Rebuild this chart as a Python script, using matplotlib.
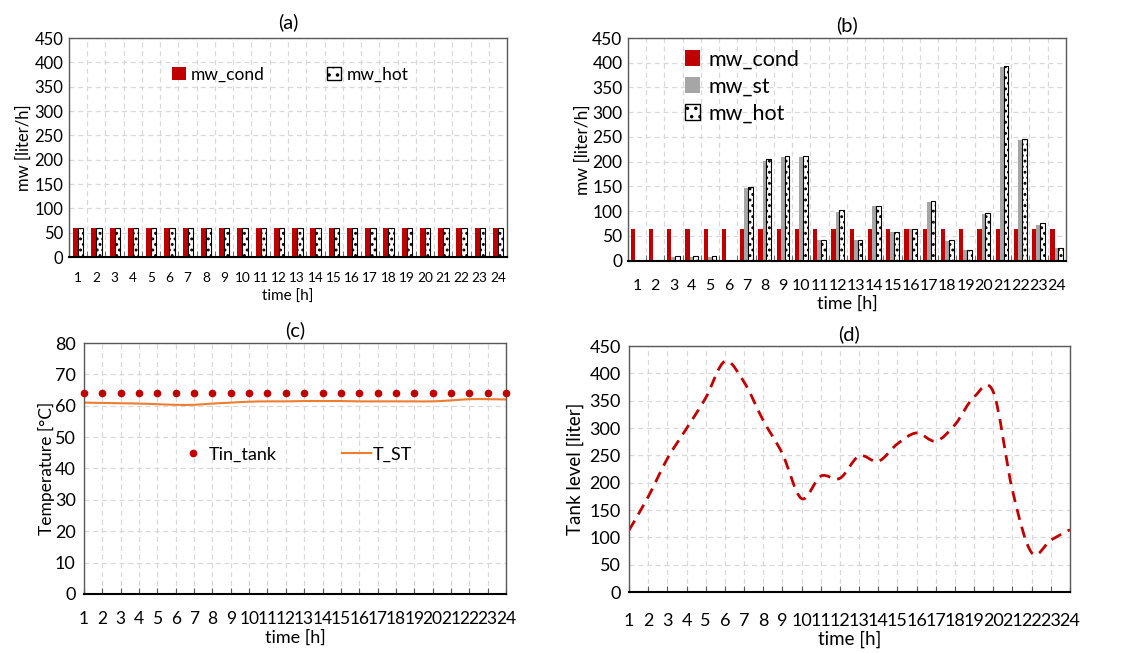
import numpy as np
import matplotlib
matplotlib.use('Agg')
import matplotlib.pyplot as plt
from matplotlib.path import Path
from matplotlib.patches import PathPatch, Patch
from matplotlib.lines import Line2D

plt.rcParams['font.family'] = ['Lato', 'DejaVu Sans']
plt.rcParams['hatch.linewidth'] = 1.3

# data
hours = list(range(1, 25))
hour_labels = [str(h) for h in hours]

# (a)
mw_cond_a = [60] * 24
mw_hot_a = [60] * 24

# (b)
mw_cond_b = [65] * 24
mw_st_b = [0, 0, 8, 8, 8, 0, 147, 202, 210, 210, 41, 99, 41, 110, 57, 65,
           118, 39, 22, 95, 391, 244, 72, 25]
mw_hot_b = [0, 0, 10, 10, 10, 0, 148, 205, 211, 212, 42, 102, 42, 111, 58, 65,
            120, 42, 22, 96, 394, 246, 76, 25]

# (c)
tin_tank = [64] * 24
t_st = [61.0, 60.9, 60.8, 60.7, 60.5, 60.3, 60.3, 60.7, 61.0, 61.3, 61.4, 61.4,
        61.5, 61.5, 61.5, 61.4, 61.4, 61.4, 61.4, 61.4, 61.7, 62.1, 62.1, 62.0]

# (d)
tank_level = [113, 174, 244, 299, 355, 422, 384, 314, 253, 171, 212, 208,
              249, 239, 271, 291, 276, 306, 357, 366, 186, 72, 95, 114]

RED = '#C00000'
GRAY = '#A6A6A6'
ORANGE = '#ED7D31'
GRID = '#D9D9D9'
HATCH = '...'


def smooth_path(x, y):
    # Excel-like smoothed line: Catmull-Rom converted to cubic Bezier segments
    n = len(x)
    verts = [(x[0], y[0])]
    codes = [Path.MOVETO]
    for i in range(n - 1):
        a = max(i - 1, 0)
        d = min(i + 2, n - 1)
        c1 = (x[i] + (x[i + 1] - x[a]) / 6, y[i] + (y[i + 1] - y[a]) / 6)
        c2 = (x[i + 1] - (x[d] - x[i]) / 6, y[i + 1] - (y[d] - y[i]) / 6)
        verts += [c1, c2, (x[i + 1], y[i + 1])]
        codes += [Path.CURVE4] * 3
    return Path(verts, codes)


def style_frame(ax):
    for s in ['top', 'right', 'left']:
        ax.spines[s].set_color('#595959')
        ax.spines[s].set_linewidth(1.0)
    ax.spines['bottom'].set_color('black')
    ax.spines['bottom'].set_linewidth(1.5)
    ax.set_axisbelow(True)


def category_axis(ax, fs, yfs, pad):
    x = np.array(hours)
    ax.set_xlim(0.5, 24.5)
    ax.set_xticks(x)
    ax.set_xticklabels(hour_labels, fontsize=fs)
    ax.tick_params(axis='x', which='major', length=0, pad=pad)
    ax.set_xticks(np.arange(0.5, 25, 1), minor=True)
    ax.tick_params(axis='x', which='minor', direction='in', length=4, color='#595959')
    ax.grid(axis='x', which='minor', color=GRID, ls=(0, (4, 3)), lw=0.9)
    ax.grid(axis='y', which='major', color=GRID, ls=(0, (4, 3)), lw=0.9)
    ax.tick_params(axis='y', length=0, labelsize=yfs, pad=4)


fig = plt.figure(figsize=(11.23, 6.53), dpi=100)

# ---- (a)
ax1 = fig.add_axes([0.0614, 0.6064, 0.3901, 0.3354])
x = np.array(hours)
ax1.bar(x - 0.135, mw_cond_a, width=0.27, color=RED)
ax1.bar(x + 0.15, mw_hot_a, width=0.29, facecolor='white', edgecolor='black',
        lw=0.8, hatch=HATCH)
ax1.set_ylim(0, 450)
ax1.set_yticks(range(0, 451, 50))
category_axis(ax1, 9.8, 12, 11)
style_frame(ax1)
ax1.set_title('(a)', fontsize=14.5, pad=7)
ax1.set_xlabel('time [h]', fontsize=11, labelpad=4)
ax1.set_ylabel('mw [liter/h]', fontsize=12, labelpad=2)
h1 = [Patch(facecolor=RED), Patch(facecolor='white', edgecolor='black', hatch='..')]
ax1.legend(h1, ['mw_cond', 'mw_hot'], ncol=2, frameon=False, fontsize=12.5,
           loc='upper center', bbox_to_anchor=(0.505, 0.94), handlelength=0.8,
           handleheight=0.8, handletextpad=0.3, columnspacing=3.6)

# ---- (b)
ax2 = fig.add_axes([0.5592, 0.6008, 0.39, 0.341])
ax2.bar(x - 0.235, mw_cond_b, width=0.23, color=RED)
ax2.bar(x - 0.01, mw_st_b, width=0.23, color=GRAY)
ax2.bar(x + 0.215, mw_hot_b, width=0.25, facecolor='white', edgecolor='black',
        lw=0.8, hatch=HATCH)
ax2.set_ylim(0, 450)
ax2.set_yticks(range(0, 451, 50))
category_axis(ax2, 11.5, 12.5, 13)
style_frame(ax2)
ax2.set_title('(b)', fontsize=14.5, pad=5)
ax2.set_xlabel('time [h]', fontsize=13, labelpad=2)
ax2.set_ylabel('mw [liter/h]', fontsize=12.5, labelpad=1)
h2 = [Patch(facecolor=RED), Patch(facecolor=GRAY),
      Patch(facecolor='white', edgecolor='black', hatch='..')]
ax2.legend(h2, ['mw_cond', 'mw_st', 'mw_hot'], frameon=False, fontsize=15.5,
           loc='upper left', bbox_to_anchor=(0.085, 1.035), handlelength=0.7,
           handleheight=0.8, handletextpad=0.4, labelspacing=0.32)

# ---- (c)
ax3 = fig.add_axes([0.0748, 0.0904, 0.3758, 0.3843])
ax3.plot(hours, tin_tank, 'o', color=RED, ms=4.5, clip_on=False, zorder=4)
ax3.add_patch(PathPatch(smooth_path(hours, t_st), fill=False, edgecolor=ORANGE, lw=1.5))
ax3.set_xlim(1, 24)
ax3.set_ylim(0, 80)
ax3.set_xticks(hours)
ax3.set_xticklabels(hour_labels, fontsize=12.5)
ax3.set_yticks(range(0, 81, 10))
ax3.tick_params(axis='x', direction='in', length=4, pad=12, color='#595959')
ax3.tick_params(axis='y', length=0, labelsize=13, pad=6)
ax3.grid(color=GRID, ls=(0, (4, 3)), lw=0.9)
style_frame(ax3)
ax3.set_title('(c)', fontsize=14.5, pad=5)
ax3.set_xlabel('time [h]', fontsize=13, labelpad=2)
ax3.set_ylabel('Temperature [°C]', fontsize=12.5, labelpad=0)
h3 = [Line2D([], [], ls='none', marker='o', ms=4.5, color=RED),
      Line2D([], [], color=ORANGE, lw=1.5)]
ax3.legend(h3, ['Tin_tank', 'T_ST'], ncol=2, frameon=False, fontsize=13,
           loc='center', bbox_to_anchor=(0.5, 0.555), handlelength=1.6,
           handletextpad=0.1, columnspacing=3.6)

# ---- (d)
ax4 = fig.add_axes([0.5601, 0.0934, 0.3927, 0.3767])
ax4.add_patch(PathPatch(smooth_path(hours, tank_level), fill=False, edgecolor=RED,
                        lw=2.0, linestyle=(0, (4, 2.6))))
ax4.set_xlim(1, 24)
ax4.set_ylim(0, 450)
ax4.set_xticks(hours)
ax4.set_xticklabels(hour_labels, fontsize=13)
ax4.set_yticks(range(0, 451, 50))
ax4.tick_params(axis='x', direction='in', length=4, pad=15, color='#595959')
ax4.tick_params(axis='y', length=0, labelsize=13, pad=6)
ax4.grid(color=GRID, ls=(0, (4, 3)), lw=0.9)
style_frame(ax4)
ax4.set_title('(d)', fontsize=14.5, pad=4)
ax4.set_xlabel('time [h]', fontsize=13.5, labelpad=1)
ax4.set_ylabel('Tank level [liter]', fontsize=13.5, labelpad=4)

fig.savefig('out.png', dpi=100)
